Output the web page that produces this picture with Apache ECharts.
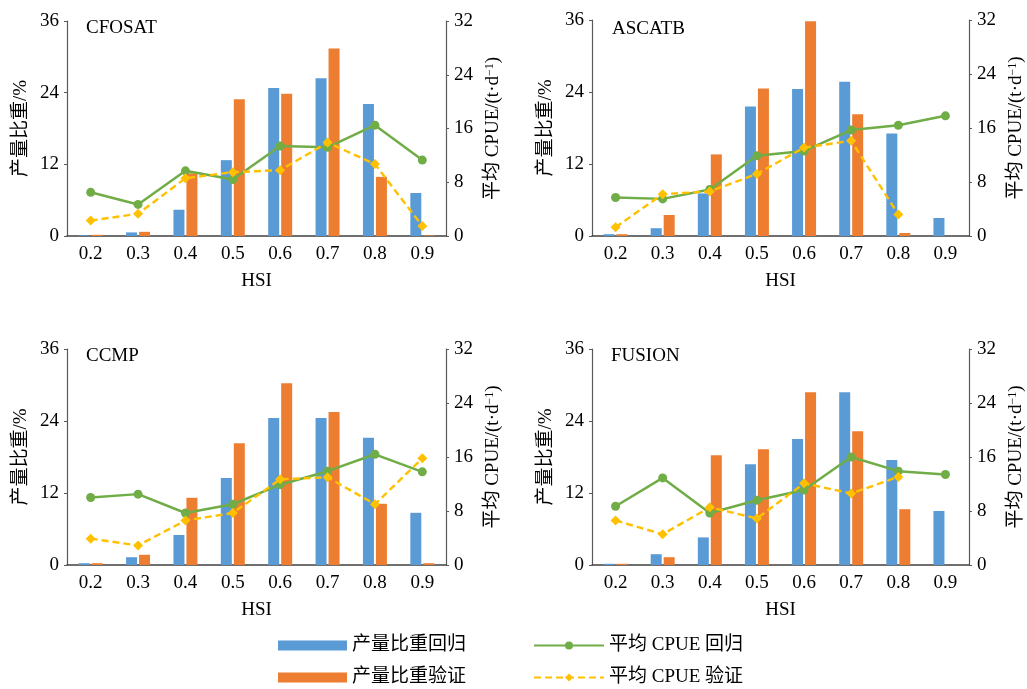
<!DOCTYPE html>
<html>
<head>
<meta charset="utf-8">
<script src="https://cdn.jsdelivr.net/npm/echarts@6/dist/echarts.min.js"></script>
<style>
html,body{margin:0;padding:0;background:#fff;}
#chart{width:1027px;height:689px;}
</style>
</head>
<body>
<div id="chart"></div>
<script>
// ---- data ----
const hsi = ['0.2', '0.3', '0.4', '0.5', '0.6', '0.7', '0.8', '0.9'];
const panelNames = ['CFOSAT', 'ASCATB', 'CCMP', 'FUSION'];
const leftTicks = [0, 12, 24, 36];
const rightTicks = [0, 8, 16, 24, 32];

const cfosatShareReg = [0.1, 0.6, 4.4, 12.7, 24.8, 26.4, 22.1, 7.2];
const cfosatShareVal = [0.2, 0.7, 10.5, 22.9, 23.8, 31.4, 9.9, 0.1];
const cfosatCpueReg = [6.5, 4.7, 9.7, 8.4, 13.4, 13.2, 16.5, 11.3];
const cfosatCpueVal = [2.3, 3.3, 8.6, 9.5, 9.8, 13.9, 10.7, 1.5];

const ascatbShareReg = [0.3, 1.3, 7.1, 21.6, 24.5, 25.7, 17.1, 3.0];
const ascatbShareVal = [0.3, 3.5, 13.6, 24.6, 35.8, 20.3, 0.5, 0];
const ascatbCpueReg = [5.7, 5.5, 6.9, 11.9, 12.6, 15.7, 16.4, 17.8];
const ascatbCpueVal = [1.3, 6.2, 6.6, 9.2, 13.1, 14.1, 3.2, null];

const ccmpShareReg = [0.3, 1.3, 5.0, 14.5, 24.5, 24.5, 21.2, 8.7];
const ccmpShareVal = [0.3, 1.7, 11.2, 20.3, 30.3, 25.5, 10.2, 0.3];
const ccmpCpueReg = [10.0, 10.5, 7.7, 9.0, 11.9, 13.9, 16.4, 13.8];
const ccmpCpueVal = [3.9, 2.9, 6.6, 7.7, 12.7, 13.0, 9.0, 15.8];

const fusionShareReg = [0.2, 1.8, 4.6, 16.8, 21.0, 28.8, 17.5, 9.0];
const fusionShareVal = [0.2, 1.3, 18.3, 19.3, 28.8, 22.3, 9.3, 0];
const fusionCpueReg = [8.7, 12.9, 7.7, 9.6, 11.1, 16.0, 13.9, 13.4];
const fusionCpueVal = [6.6, 4.55, 8.55, 6.9, 12.1, 10.6, 13.05, null];

const seriesNames = ['产量比重回归', '产量比重验证', '平均 CPUE 回归', '平均 CPUE 验证'];
const panelData = [
  [cfosatShareReg, cfosatShareVal, cfosatCpueReg, cfosatCpueVal],
  [ascatbShareReg, ascatbShareVal, ascatbCpueReg, ascatbCpueVal],
  [ccmpShareReg, ccmpShareVal, ccmpCpueReg, ccmpCpueVal],
  [fusionShareReg, fusionShareVal, fusionCpueReg, fusionCpueVal]
];

// ---- layout / style ----
const FONT = "'Liberation Serif', 'Times New Roman', 'Noto Sans CJK SC', serif";
const C_BLUE = '#5B9BD5', C_ORANGE = '#ED7D31', C_GREEN = '#70AD47', C_YELLOW = '#FFC000';
const grids = [
  {left: 67, top: 21, width: 379, height: 215},
  {left: 592, top: 20, width: 379, height: 216},
  {left: 67, top: 349, width: 379, height: 216},
  {left: 592, top: 349, width: 379, height: 216}
];
const titlePos = [
  {left: 86, top: 19}, {left: 612, top: 20}, {left: 86, top: 347}, {left: 611, top: 347}
];
const legendPos = [
  {left: 278, top: 636, w: 69, icon: 'rect'},
  {left: 278, top: 668, w: 69, icon: 'rect'},
  {left: 533, top: 636, w: 70},
  {left: 533, top: 668, w: 70}
];

const option = {
  backgroundColor: '#fff',
  animation: false,
  textStyle: {fontFamily: FONT},
  title: panelNames.map((n, i) => ({
    text: n, left: titlePos[i].left, top: titlePos[i].top, padding: 0,
    textStyle: {fontFamily: FONT, fontSize: 19, fontWeight: 'normal', color: '#000'}
  })),
  grid: grids,
  legend: seriesNames.map((n, i) => ({
    left: legendPos[i].left, top: legendPos[i].top, padding: 0,
    itemWidth: legendPos[i].w, itemHeight: 10,
    textStyle: {fontFamily: FONT, fontSize: 19, color: '#000'},
    data: [legendPos[i].icon ? {name: n, icon: legendPos[i].icon} : n]
  })),
  xAxis: grids.map((g, i) => ({
    type: 'category', gridIndex: i, data: hsi,
    name: 'HSI', nameLocation: 'middle', nameGap: 36,
    nameTextStyle: {fontFamily: FONT, fontSize: 19, color: '#000'},
    axisLine: {lineStyle: {color: '#404040', width: 1.5}},
    axisTick: {show: false},
    axisLabel: {fontFamily: FONT, fontSize: 19, color: '#000', margin: 9}
  })),
  yAxis: [],
  series: []
};

grids.forEach((g, i) => {
  option.yAxis.push({
    type: 'value', gridIndex: i, min: leftTicks[0], max: leftTicks[leftTicks.length - 1], interval: 12,
    position: 'left',
    name: '产量比重/%', nameLocation: 'middle', nameGap: 36, nameRotate: 90,
    nameTextStyle: {fontFamily: FONT, fontSize: 19, color: '#000'},
    axisLine: {show: true, lineStyle: {color: '#595959', width: 1.2}},
    axisTick: {show: true, length: 3, lineStyle: {color: '#595959'}},
    splitLine: {show: false},
    axisLabel: {fontFamily: FONT, fontSize: 19, color: '#000', margin: 8}
  });
  option.yAxis.push({
    type: 'value', gridIndex: i, min: rightTicks[0], max: rightTicks[rightTicks.length - 1], interval: 8,
    position: 'right',
    name: '{a|平均 CPUE/(t·d}{s|−1}{a|)}', nameLocation: 'middle', nameGap: 38, nameRotate: 90,
    nameTextStyle: {
      fontFamily: FONT, fontSize: 19, color: '#000',
      rich: {
        a: {fontFamily: FONT, fontSize: 19, color: '#000'},
        s: {fontFamily: FONT, fontSize: 12, color: '#000', verticalAlign: 'top'}
      }
    },
    axisLine: {show: true, lineStyle: {color: '#595959', width: 1.2}},
    axisTick: {show: true, length: 3, lineStyle: {color: '#595959'}},
    splitLine: {show: false},
    axisLabel: {fontFamily: FONT, fontSize: 19, color: '#000', margin: 8}
  });
  const d = panelData[i];
  option.series.push({
    name: seriesNames[0], type: 'bar', xAxisIndex: i, yAxisIndex: 2 * i,
    data: d[0], barWidth: 11, barGap: '18%', itemStyle: {color: C_BLUE}
  });
  option.series.push({
    name: seriesNames[1], type: 'bar', xAxisIndex: i, yAxisIndex: 2 * i,
    data: d[1], barWidth: 11, barGap: '18%', itemStyle: {color: C_ORANGE}
  });
  option.series.push({
    name: seriesNames[2], type: 'line', xAxisIndex: i, yAxisIndex: 2 * i + 1,
    data: d[2], symbol: 'circle', symbolSize: 9, z: 5,
    lineStyle: {color: C_GREEN, width: 2.5}, itemStyle: {color: C_GREEN}
  });
  option.series.push({
    name: seriesNames[3], type: 'line', xAxisIndex: i, yAxisIndex: 2 * i + 1,
    data: d[3], symbol: 'diamond', symbolSize: 10, z: 6,
    lineStyle: {color: C_YELLOW, width: 2.4, type: [7, 4]}, itemStyle: {color: C_YELLOW}
  });
});

const chart = echarts.init(document.getElementById('chart'), null, {renderer: 'canvas'});
chart.setOption(option);
</script>
</body>
</html>
